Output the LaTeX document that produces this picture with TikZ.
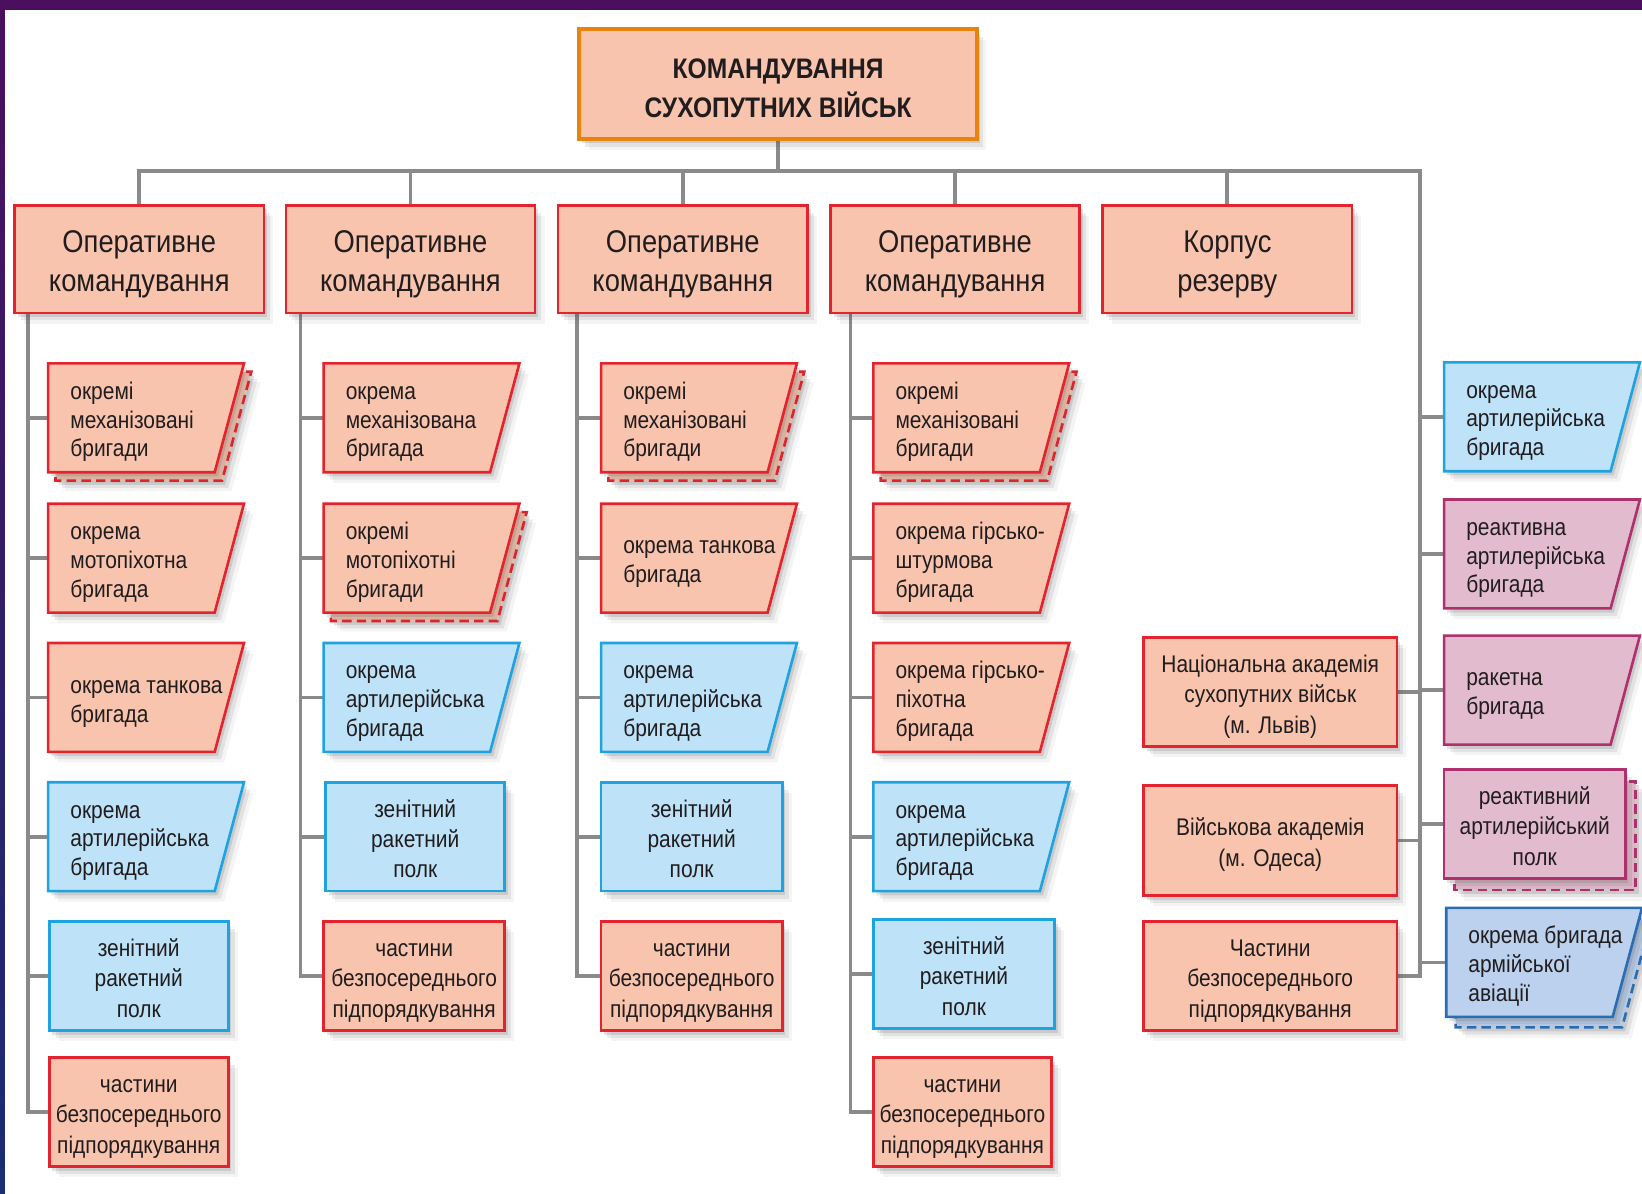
\documentclass[tikz,border=0pt]{standalone}
\usepackage{fontspec}
\newfontfamily\cond[FakeStretch=0.87]{Liberation Sans}
\usetikzlibrary{shadows}
\definecolor{salmon}{HTML}{F8C4AE}
\definecolor{redb}{HTML}{E3232D}
\definecolor{orangeb}{HTML}{E8830E}
\definecolor{lblue}{HTML}{BEE3F8}
\definecolor{lblueb}{HTML}{1FA3E0}
\definecolor{mauve}{HTML}{E2BCCE}
\definecolor{mauveb}{HTML}{B0306E}
\definecolor{avblue}{HTML}{BCD1EE}
\definecolor{avblueb}{HTML}{2B6DB3}
\definecolor{linegray}{HTML}{8A8A8A}
\definecolor{txt}{HTML}{211D1F}
\definecolor{bgtop}{HTML}{4A0F5E}
\definecolor{bgbot}{HTML}{1A2C74}
\pgfdeclarelayer{bg}
\pgfdeclarelayer{lines}
\pgfsetlayers{bg,lines,main}
\newcommand\ts[1]{\vrule height \dimexpr.7\baselineskip+#1\relax depth 0pt width 0pt}
\newcommand\bs{\vrule height 0pt depth .3\baselineskip width 0pt}
\tikzset{
  shd/.style={drop shadow={shadow xshift=3pt,shadow yshift=-4pt,opacity=.16,fill=black!70},
              drop shadow={shadow xshift=6pt,shadow yshift=-7pt,opacity=.10,fill=black!70},
              drop shadow={shadow xshift=9pt,shadow yshift=-10pt,opacity=.06,fill=black!70}},
  sal/.style={fill=salmon,draw=redb,line width=2.5pt},
  blu/.style={fill=lblue,draw=lblueb,line width=2.5pt},
  mau/.style={fill=mauve,draw=mauveb,line width=2.5pt},
  avb/.style={fill=avblue,draw=avblueb,line width=2.5pt},
  dashpat/.style={dash pattern=on 9pt off 5pt},
  conn/.style={draw=linegray,line width=3.5pt},
  geo/.style={rectangle,draw=none,inner sep=0,outer sep=0,minimum width=187pt,minimum height=104pt,anchor=north west},
  tlbl/.style={font=\cond\fontsize{23}{27.5}\selectfont,text=txt,align=left,inner sep=0},
  rbox/.style={rectangle,anchor=north west,minimum height=104pt,inner sep=0,outer sep=0,align=center,
               font=\cond\fontsize{23}{29}\selectfont,text=txt,shd},
  lvl/.style={rectangle,anchor=north west,minimum width=238pt,minimum height=103pt,inner sep=0,outer sep=0,
              sal,align=center,font=\cond\fontsize{30}{37}\selectfont,text=txt,shd},
  topbox/.style={rectangle,anchor=north west,minimum width=380pt,minimum height=105pt,inner sep=0,outer sep=0,
              fill=salmon,draw=orangeb,line width=3.5pt,align=center,font=\cond\bfseries\fontsize{27}{37.5}\selectfont,text=txt,shd}
}
\newcommand\trapz[5]{%
  \node[geo] (#1) at (#2,#3) {};
  \draw[#4,shd] (#1.north west) -- (#1.north east) -- ([xshift=-28pt]#1.south east) -- (#1.south west) -- cycle;
  \node[tlbl,anchor=west] (#1t) at ([xshift=21pt]#1.west) {\ts{8.5pt}#5\bs};
}
\newcommand\trapzd[7]{%
  \node[geo] (#1) at (#2,#3) {};
  \draw[#4,shd,dashpat] ([xshift=#6pt,yshift=-#7pt]#1.north west) -- ([xshift=#6pt,yshift=-#7pt]#1.north east)
     -- ([xshift=#6pt-28pt,yshift=-#7pt]#1.south east) -- ([xshift=#6pt,yshift=-#7pt]#1.south west) -- cycle;
  \draw[#4,shd] (#1.north west) -- (#1.north east) -- ([xshift=-28pt]#1.south east) -- (#1.south west) -- cycle;
  \node[tlbl,anchor=west] (#1t) at ([xshift=21pt]#1.west) {\ts{8.5pt}#5\bs};
}
\newcommand\rbx[5]{\node[rbox,#1] (#2) at (#3,#4) {\ts{9pt}#5\bs};}
\begin{document}
\begin{tikzpicture}[x=1pt,y=-1pt]
\useasboundingbox (0,0) rectangle (1568,1140);
\begin{pgfonlayer}{bg}
\shade[top color=bgtop,bottom color=bgbot] (0,0) rectangle (1568,1140);
\fill[white] (5,10) rectangle (1568,1140);
\end{pgfonlayer}

% top and level 2
\node[topbox] (top) at (553,28) {\ts{11.5pt}КОМАНДУВАННЯ\\СУХОПУТНИХ ВІЙСЬК\bs};
\node[lvl] (L1) at (14,196) {\ts{9pt}Оперативне\\командування\bs};
\node[lvl] (L2) at (273,196) {\ts{9pt}Оперативне\\командування\bs};
\node[lvl] (L3) at (533,196) {\ts{9pt}Оперативне\\командування\bs};
\node[lvl] (L4) at (793,196) {\ts{9pt}Оперативне\\командування\bs};
\node[lvl] (L5) at (1053,196) {\ts{9pt}Корпус\\резерву\bs};

% column 1
\trapzd{c1a}{46}{347}{sal}{окремі\\механізовані\\бригади}{7}{8}
\trapz{c1b}{46}{481}{sal}{окрема\\мотопіхотна\\бригада}
\trapz{c1c}{46}{614}{sal}{окрема танкова\\бригада}
\trapz{c1d}{46}{747}{blu}{окрема\\артилерійська\\бригада}
\rbx{blu,minimum width=171pt}{c1e}{47}{880}{зенітний\\ракетний\\полк}
\rbx{sal,minimum width=171pt}{c1f}{47}{1010}{частини\\безпосереднього\\підпорядкування}

% column 2
\trapz{c2a}{309}{347}{sal}{окрема\\механізована\\бригада}
\trapzd{c2b}{309}{481}{sal}{окремі\\мотопіхотні\\бригади}{7}{8}
\trapz{c2c}{309}{614}{blu}{окрема\\артилерійська\\бригада}
\rbx{blu,minimum width=171pt}{c2d}{311}{747}{зенітний\\ракетний\\полк}
\rbx{sal,minimum width=173pt}{c2e}{309}{880}{частини\\безпосереднього\\підпорядкування}

% column 3
\trapzd{c3a}{574}{347}{sal}{окремі\\механізовані\\бригади}{7}{8}
\trapz{c3b}{574}{481}{sal}{окрема танкова\\бригада}
\trapz{c3c}{574}{614}{blu}{окрема\\артилерійська\\бригада}
\rbx{blu,minimum width=173pt}{c3d}{574}{747}{зенітний\\ракетний\\полк}
\rbx{sal,minimum width=173pt}{c3e}{574}{880}{частини\\безпосереднього\\підпорядкування}

% column 4
\trapzd{c4a}{834}{347}{sal}{окремі\\механізовані\\бригади}{7}{8}
\trapz{c4b}{834}{481}{sal}{окрема гірсько-\\штурмова\\бригада}
\trapz{c4c}{834}{614}{sal}{окрема гірсько-\\піхотна\\бригада}
\trapz{c4d}{834}{747}{blu}{окрема\\артилерійська\\бригада}
\rbx{blu,minimum width=173pt}{c4e}{834}{878}{зенітний\\ракетний\\полк}
\rbx{sal,minimum width=170pt}{c4f}{834}{1010}{частини\\безпосереднього\\підпорядкування}

% right part
\rbx{sal,minimum width=242pt}{rN}{1092}{609}{Національна академія\\сухопутних військ\\(м. Львів)}
\rbx{sal,minimum width=242pt,minimum height=105pt}{rV}{1092}{750}{Військова академія\\(м. Одеса)}
\rbx{sal,minimum width=242pt}{rC}{1092}{880}{Частини\\безпосереднього\\підпорядкування}

\trapz{ra}{1379}{346}{blu}{окрема\\артилерійська\\бригада}
\trapz{rb}{1379}{477}{mau}{реактивна\\артилерійська\\бригада}
\trapz{rc}{1379}{607}{mau}{ракетна\\бригада}
\node[geo,minimum width=173pt] (rPg) at (1379,735) {};
\draw[mau,shd,dashpat] ([xshift=10pt,yshift=-11pt]rPg.north west) rectangle ([xshift=10pt,yshift=-11pt]rPg.south east);
\rbx{mau,minimum width=173pt}{rP}{1379}{735}{реактивний\\артилерійський\\полк}
\trapzd{rav}{1381}{867}{avb}{окрема бригада\\армійської\\авіації}{9}{10}

% connectors
\begin{pgfonlayer}{lines}
\coordinate (busR) at (1356,163);
\draw[conn] (L1.north) |- (busR) |- (rC.east);
\draw[conn] (top.south) -- (top.south |- busR);
\draw[conn] (L2.north) -- (L2.north |- busR);
\draw[conn] (L3.north) -- (L3.north |- busR);
\draw[conn] (L4.north) -- (L4.north |- busR);
\draw[conn] (L5.north) -- (L5.north |- busR);

\coordinate (t1) at ([xshift=13pt]L1.south west);
\draw[conn] (t1) |- (c1f.west);
\foreach \n in {c1a,c1b,c1c,c1d,c1e} \draw[conn] (\n.west) -- (\n.west -| t1);

\coordinate (t2) at ([xshift=14pt]L2.south west);
\draw[conn] (t2) |- (c2e.west);
\foreach \n in {c2a,c2b,c2c,c2d} \draw[conn] (\n.west) -- (\n.west -| t2);

\coordinate (t3) at ([xshift=18pt]L3.south west);
\draw[conn] (t3) |- (c3e.west);
\foreach \n in {c3a,c3b,c3c,c3d} \draw[conn] (\n.west) -- (\n.west -| t3);

\coordinate (t4) at ([xshift=19pt]L4.south west);
\draw[conn] (t4) |- (c4f.west);
\foreach \n in {c4a,c4b,c4c,c4d,c4e} \draw[conn] (\n.west) -- (\n.west -| t4);

\foreach \n in {ra,rb,rc,rP,rav} \draw[conn] (\n.west) -- (\n.west -| busR);
\foreach \n in {rN,rV} \draw[conn] (\n.east) -- (\n.east -| busR);
\end{pgfonlayer}
\end{tikzpicture}
\end{document}
